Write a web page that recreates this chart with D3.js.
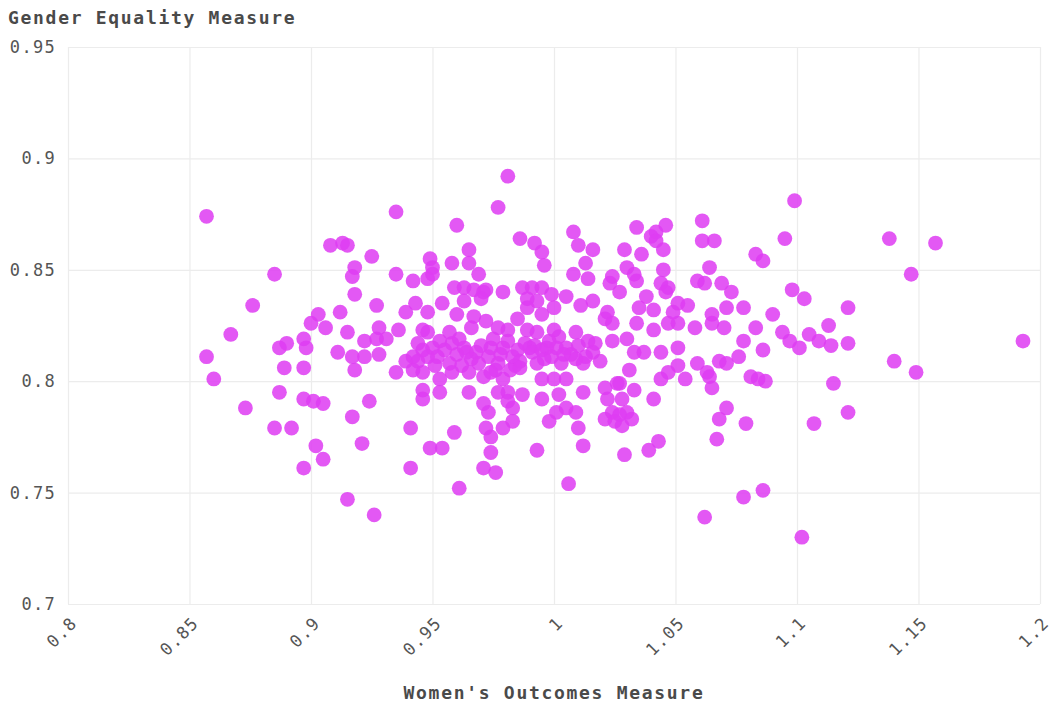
<!DOCTYPE html>
<html>
<head>
<meta charset="utf-8">
<script src="https://cdn.jsdelivr.net/npm/d3@7"></script>
<style>
  html, body { margin: 0; padding: 0; background: #fff; }
  svg { display: block; }
</style>
</head>
<body>
<svg id="chart" width="1052" height="708"></svg>
<script>
// ---- data ----
const chartTitle = "Gender Equality Measure";
const xAxisTitle = "Women's Outcomes Measure";
const xTickValues = [0.8, 0.85, 0.9, 0.95, 1, 1.05, 1.1, 1.15, 1.2];
const xTickLabels = ["0.8", "0.85", "0.9", "0.95", "1", "1.05", "1.1", "1.15", "1.2"];
const yTickValues = [0.7, 0.75, 0.8, 0.85, 0.9, 0.95];
const yTickLabels = ["0.7", "0.75", "0.8", "0.85", "0.9", "0.95"];

// [women's outcomes, gender equality]
const leftGroup = [
  [0.857,0.874],[0.857,0.811],[0.860,0.801],[0.867,0.821],[0.873,0.788],[0.876,0.834],
  [0.885,0.848],[0.887,0.815],[0.890,0.817],[0.887,0.795],[0.885,0.779],[0.892,0.779],
  [0.889,0.806],[0.897,0.819],[0.898,0.815],[0.897,0.806],[0.897,0.792],[0.901,0.791],
  [0.905,0.790],[0.902,0.771],[0.905,0.765],[0.897,0.761],[0.903,0.830],[0.900,0.826],
  [0.906,0.824],[0.912,0.831],[0.908,0.861],[0.913,0.862],[0.915,0.861],[0.911,0.813],
  [0.915,0.822],[0.917,0.811],[0.918,0.851],[0.917,0.847],[0.918,0.839],[0.917,0.784],
  [0.915,0.747],[0.918,0.805],[0.922,0.811],[0.922,0.818],[0.921,0.772],[0.924,0.791],
  [0.925,0.856],[0.926,0.740],[0.927,0.834],[0.928,0.824],[0.927,0.819],[0.928,0.812],
  [0.931,0.819],[0.935,0.876],[0.935,0.804],[0.935,0.848],[0.936,0.823],[0.939,0.809],
  [0.939,0.831],[0.941,0.779],[0.941,0.761],[0.942,0.845],[0.943,0.835],[0.942,0.811],
  [0.942,0.805],[0.946,0.823],[0.946,0.814],[0.946,0.796],[0.946,0.792],[0.949,0.770]
];
const middleUpperGroup = [
  [0.981,0.892],[0.977,0.878],[0.960,0.870],[0.986,0.864],[0.992,0.862],[0.995,0.858],
  [0.996,0.852],[1.008,0.867],[1.010,0.861],[1.016,0.859],[1.013,0.853],[1.008,0.848],
  [1.014,0.846],[0.965,0.859],[0.965,0.853],[0.958,0.853],[0.949,0.855],[0.950,0.851],
  [0.948,0.846],[0.950,0.848],[0.969,0.848],[0.979,0.840],[0.959,0.842],[0.963,0.842],
  [0.967,0.841],[0.971,0.840],[0.972,0.841],[0.970,0.837],[0.963,0.836],[0.954,0.835],
  [0.948,0.831],[0.960,0.830],[0.987,0.842],[0.991,0.842],[0.995,0.842],[0.989,0.837],
  [0.993,0.836],[0.999,0.839],[1.005,0.838],[1.011,0.834],[1.016,0.836],[0.989,0.833],
  [0.985,0.828],[0.995,0.830],[1.000,0.833],[0.967,0.829],[0.972,0.827],[0.977,0.824],
  [0.981,0.823],[0.966,0.824],[0.989,0.823],[0.993,0.822],[1.000,0.823],[1.002,0.820],
  [1.009,0.822],[1.014,0.818],[0.948,0.822],[0.953,0.818],[0.958,0.817],[0.963,0.815],
  [0.968,0.813],[0.974,0.815],[0.979,0.815],[0.985,0.814],[0.990,0.815],[0.997,0.815],
  [1.005,0.815],[1.016,0.813]
];
const denseCoreGroup = [
  [0.944,0.817],[0.950,0.815],[0.955,0.814],[0.957,0.808],[0.962,0.807],[0.951,0.807],
  [0.944,0.809],[0.966,0.810],[0.970,0.816],[0.975,0.819],[0.978,0.812],[0.981,0.818],
  [0.976,0.805],[0.984,0.807],[0.988,0.817],[0.992,0.816],[0.996,0.810],[1.001,0.815],
  [1.003,0.808],[1.007,0.812],[1.010,0.816],[1.013,0.811],[1.017,0.817],[1.019,0.809],
  [0.998,0.818],[0.993,0.808],[0.961,0.819],[0.957,0.822]
];
const middleLowerGroup = [
  [0.948,0.811],[0.952,0.811],[0.960,0.812],[0.964,0.813],[0.969,0.808],[0.973,0.811],
  [0.977,0.808],[0.983,0.811],[0.986,0.809],[0.991,0.813],[0.995,0.814],[0.999,0.811],
  [1.004,0.812],[1.009,0.810],[0.946,0.804],[0.953,0.801],[0.958,0.804],[0.965,0.804],
  [0.971,0.802],[0.974,0.804],[0.979,0.801],[0.982,0.805],[0.986,0.806],[0.995,0.801],
  [1.000,0.801],[1.005,0.801],[1.012,0.808],[0.953,0.795],[0.965,0.795],[0.971,0.790],
  [0.973,0.786],[0.977,0.795],[0.981,0.795],[0.981,0.791],[0.983,0.788],[0.987,0.794],
  [0.995,0.792],[1.002,0.794],[1.012,0.795],[1.021,0.797],[1.022,0.792],[1.026,0.799],
  [1.001,0.786],[1.005,0.788],[1.009,0.786],[0.998,0.782],[1.021,0.783],[1.024,0.786],
  [0.972,0.779],[0.974,0.775],[0.979,0.779],[0.983,0.782],[0.959,0.777],[1.010,0.779],
  [1.012,0.771],[0.954,0.770],[0.974,0.768],[0.993,0.769],[0.971,0.761],[0.976,0.759],
  [0.961,0.752],[1.006,0.754]
];
const rightGroup = [
  [1.034,0.869],[1.040,0.865],[1.042,0.867],[1.046,0.870],[1.042,0.863],[1.045,0.859],
  [1.029,0.859],[1.036,0.857],[1.061,0.872],[1.061,0.863],[1.066,0.863],[1.099,0.881],
  [1.095,0.864],[1.083,0.857],[1.086,0.854],[1.064,0.851],[1.059,0.845],[1.062,0.844],
  [1.069,0.844],[1.073,0.840],[1.098,0.841],[1.103,0.837],[1.078,0.833],[1.071,0.833],
  [1.065,0.830],[1.090,0.830],[1.058,0.824],[1.065,0.826],[1.070,0.824],[1.083,0.824],
  [1.078,0.818],[1.094,0.822],[1.097,0.818],[1.101,0.815],[1.086,0.814],[1.051,0.815],
  [1.044,0.813],[1.024,0.847],[1.030,0.851],[1.027,0.840],[1.033,0.848],[1.034,0.845],
  [1.038,0.838],[1.045,0.850],[1.044,0.844],[1.047,0.842],[1.046,0.840],[1.051,0.835],
  [1.055,0.834],[1.049,0.831],[1.035,0.833],[1.041,0.832],[1.022,0.831],[1.034,0.826],
  [1.041,0.823],[1.047,0.826],[1.051,0.826],[1.030,0.819],[1.024,0.818],[1.021,0.828],
  [1.024,0.826],[1.023,0.844],[1.033,0.813],[1.037,0.813],[1.031,0.805],[1.027,0.799],
  [1.033,0.796],[1.028,0.792],[1.027,0.785],[1.030,0.786],[1.032,0.783],[1.025,0.782],
  [1.028,0.780],[1.041,0.792],[1.044,0.801],[1.047,0.804],[1.051,0.807],[1.054,0.801],
  [1.059,0.808],[1.063,0.804],[1.064,0.802],[1.065,0.797],[1.068,0.809],[1.071,0.808],
  [1.076,0.811],[1.081,0.802],[1.084,0.801],[1.087,0.800],[1.071,0.788],[1.068,0.783],
  [1.079,0.781],[1.067,0.774],[1.043,0.773],[1.039,0.769],[1.029,0.767],[1.078,0.748],
  [1.086,0.751],[1.062,0.739]
];
const farRightGroup = [
  [1.138,0.864],[1.157,0.862],[1.147,0.848],[1.105,0.821],[1.109,0.818],[1.114,0.816],
  [1.121,0.817],[1.113,0.825],[1.121,0.833],[1.140,0.809],[1.149,0.804],[1.193,0.818],
  [1.115,0.799],[1.121,0.786],[1.107,0.781],[1.102,0.730]
];
const observations = [].concat(leftGroup, middleUpperGroup, denseCoreGroup, middleLowerGroup, rightGroup, farRightGroup);

// ---- drawing ----
const svg = d3.select("#chart");
const plotLeft = 68, plotRight = 1040, plotTop = 47, plotBottom = 604;
const x = d3.scaleLinear().domain([0.8, 1.2]).range([plotLeft, plotRight]);
const y = d3.scaleLinear().domain([0.7, 0.95]).range([plotBottom, plotTop]);
const FONT = "'DejaVu Sans Mono', 'Liberation Mono', monospace";

// gridlines
const gx = svg.append("g").attr("transform", `translate(0,${plotBottom})`)
  .call(d3.axisBottom(x).tickValues(xTickValues).tickSize(-(plotBottom - plotTop)).tickFormat(""));
gx.select(".domain").remove();
gx.selectAll(".tick line").attr("stroke", "#ececec").attr("stroke-width", 1.2);

const gy = svg.append("g").attr("transform", `translate(${plotLeft},0)`)
  .call(d3.axisLeft(y).tickValues(yTickValues).tickSize(-(plotRight - plotLeft)).tickPadding(12)
    .tickFormat((d, i) => yTickLabels[i]));
gy.select(".domain").remove();
gy.selectAll(".tick line").attr("stroke", "#ececec").attr("stroke-width", 1.2);
gy.selectAll(".tick text")
  .attr("font-family", FONT).attr("font-size", 17).attr("letter-spacing", 1.3)
  .attr("fill", "#555");

// x tick labels (rotated)
svg.append("g").selectAll("text").data(xTickValues).join("text")
  .attr("transform", d => `translate(${x(d) + 6},${plotBottom + 16}) rotate(-45)`)
  .attr("text-anchor", "end").attr("dy", "0.35em")
  .attr("font-family", FONT).attr("font-size", 17).attr("letter-spacing", 1.3)
  .attr("fill", "#555")
  .text((d, i) => xTickLabels[i]);

// points
svg.append("g").selectAll("circle").data(observations).join("circle")
  .attr("cx", d => x(d[0])).attr("cy", d => y(d[1])).attr("r", 7.4)
  .attr("fill", "rgb(222,60,242)").attr("fill-opacity", 0.86);

// titles
svg.append("text").attr("x", 8).attr("y", 24)
  .attr("font-family", FONT).attr("font-size", 18).attr("font-weight", "bold")
  .attr("letter-spacing", 1.7).attr("fill", "#4a4a4a").text(chartTitle);
svg.append("text").attr("x", (plotLeft + plotRight) / 2).attr("y", 699).attr("text-anchor", "middle")
  .attr("font-family", FONT).attr("font-size", 18).attr("font-weight", "bold")
  .attr("letter-spacing", 1.7).attr("fill", "#4a4a4a").text(xAxisTitle);
</script>
</body>
</html>
